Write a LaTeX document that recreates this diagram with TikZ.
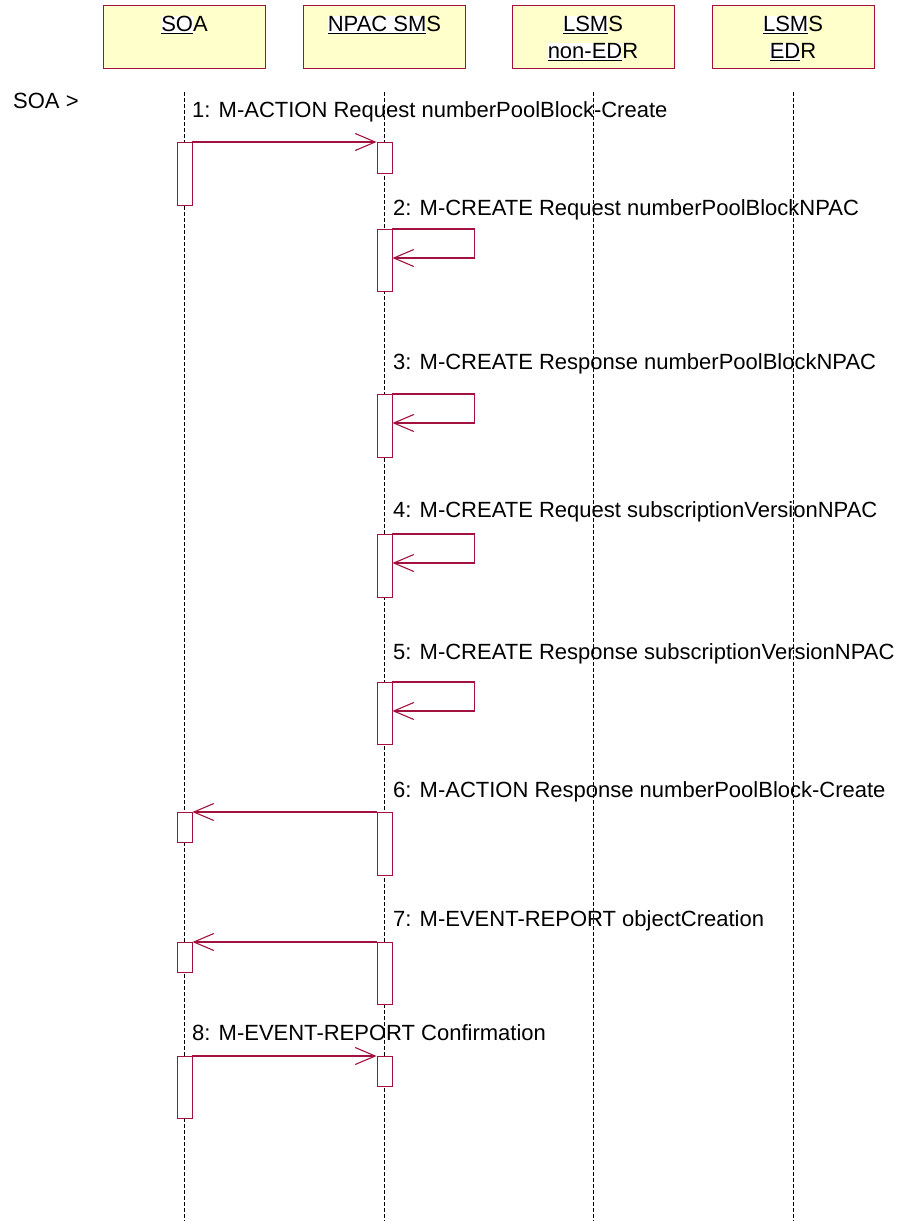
\documentclass[tikz,border=0pt]{standalone}
\usepackage{fontspec}
\setmainfont{Liberation Sans}
\usepackage{tikz}
\usetikzlibrary{arrows.meta, calc}
\usepackage{xcolor}
\definecolor{crimson}{HTML}{A3123F}
\definecolor{paleyellow}{HTML}{FFFFCC}
\newcommand{\ulpart}[1]{{\fboxsep=0pt\colorbox{white}{\underline{#1}}}}
\newcommand{\topstrut}{\rule{0pt}{25pt}}

\begin{document}
\begin{tikzpicture}[x=1pt, y=-1pt,
    hdr/.style={draw=crimson, fill=paleyellow, line width=0.8pt, minimum width=162pt,
        minimum height=63pt, inner sep=0pt, align=center, font=\fontsize{22}{27}\selectfont},
    act/.style={draw=crimson, fill=white, line width=0.8pt, minimum width=15pt,
        inner sep=0pt, anchor=north},
    msg/.style={draw=crimson, line width=1.1pt, -{Straight Barb[length=20pt,width=17pt]}},
    lbl/.style={anchor=base west, inner sep=0pt, font=\fontsize{22}{26}\selectfont},
    life/.style={line width=0.7pt, dash pattern=on 4pt off 2pt}]

    \fill[white] (0,0) rectangle (902,1221);
    \useasboundingbox (0,0) rectangle (902,1221);

    % object boxes
    \node[hdr] (soa)  at (184.5,36.5) {\topstrut\ulpart{SO}A\\\strut};
    \node[hdr] (npac) at (384.5,36.5) {\topstrut\ulpart{NPAC SM}S\\\strut};
    \node[hdr] (nedr) at (593,36.5)   {\topstrut\ulpart{LSM}S\\\strut\ulpart{non-ED}R};
    \node[hdr] (edr)  at (793,36.5)   {\topstrut\ulpart{LSM}S\\\strut\ulpart{ED}R};

    % lifelines
    \foreach \obj in {soa, npac, nedr, edr} {
        \coordinate (\obj top) at ($(\obj.south)+(0,24)$);
        \coordinate (\obj end) at ($(\obj.south)+(0,1153)$);
        \draw[life] (\obj top) -- (\obj end);
    }

    \node[lbl, anchor=base west] (actor) at (13,108) {SOA >};

    % activations
    \foreach \n/\t/\h in {1/142/63, 6/812/30, 7/942/30, 8/1056/62}
        \node[act, minimum height=\h] (s\n) at (184.5,\t) {};
    \foreach \n/\t/\h in {1/142/31, 2/229/62, 3/394/63, 4/534/63, 5/682/62, 6/812/63, 7/942/62, 8/1056/30}
        \node[act, minimum height=\h] (p\n) at (384.5,\t) {};

    % messages
    \node[lbl] (m1) at (192,117) {1: M-ACTION Request numberPoolBlock-Create};
    \draw[msg] (s1.north east) -- (p1.north west);

    \node[lbl] (m2) at (393,215) {2: M-CREATE Request numberPoolBlockNPAC};
    \draw[msg] (p2.north east) -- ++(82,0) -- ++(0,29) -- ++(-82,0);

    \node[lbl] (m3) at (393,369) {3: M-CREATE Response numberPoolBlockNPAC};
    \draw[msg] (p3.north east) -- ++(82,0) -- ++(0,29) -- ++(-82,0);

    \node[lbl] (m4) at (393,517) {4: M-CREATE Request subscriptionVersionNPAC};
    \draw[msg] (p4.north east) -- ++(82,0) -- ++(0,29) -- ++(-82,0);

    \node[lbl] (m5) at (393,659) {5: M-CREATE Response subscriptionVersionNPAC};
    \draw[msg] (p5.north east) -- ++(82,0) -- ++(0,29) -- ++(-82,0);

    \node[lbl] (m6) at (393,797) {6: M-ACTION Response numberPoolBlock-Create};
    \draw[msg] (p6.north west) -- (s6.north east);

    \node[lbl] (m7) at (393,926) {7: M-EVENT-REPORT objectCreation};
    \draw[msg] (p7.north west) -- (s7.north east);

    \node[lbl] (m8) at (192,1040) {8: M-EVENT-REPORT Confirmation};
    \draw[msg] (s8.north east) -- (p8.north west);
\end{tikzpicture}
\end{document}
